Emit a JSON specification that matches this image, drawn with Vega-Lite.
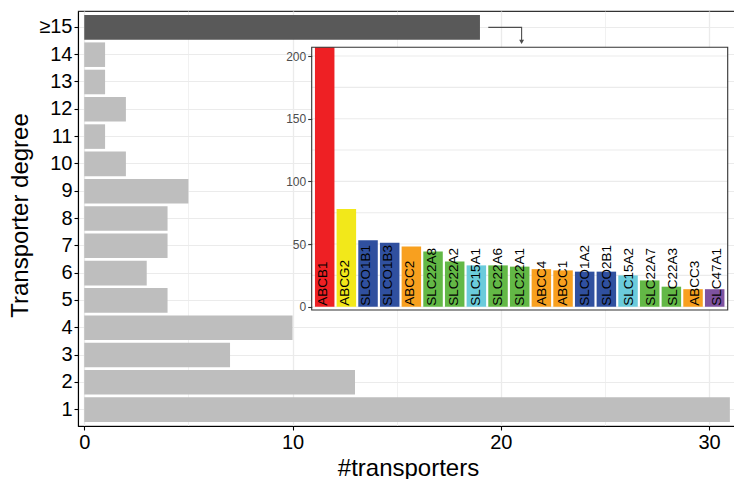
{
  "$schema": "https://vega.github.io/schema/vega-lite/v6.json",
  "width": 660,
  "height": 415,
  "autosize": {"type": "none"},
  "padding": {"left": 78, "top": 11, "right": 0, "bottom": 53},
  "background": "white",
  "config": {
    "font": "Liberation Sans",
    "view": {"stroke": "#333333", "strokeWidth": 1.1}
  },
  "datasets": {
    "main": [
      {"degree": "≥15", "transporters": 19, "group": "top"},
      {"degree": "14", "transporters": 1, "group": "rest"},
      {"degree": "13", "transporters": 1, "group": "rest"},
      {"degree": "12", "transporters": 2, "group": "rest"},
      {"degree": "11", "transporters": 1, "group": "rest"},
      {"degree": "10", "transporters": 2, "group": "rest"},
      {"degree": "9", "transporters": 5, "group": "rest"},
      {"degree": "8", "transporters": 4, "group": "rest"},
      {"degree": "7", "transporters": 4, "group": "rest"},
      {"degree": "6", "transporters": 3, "group": "rest"},
      {"degree": "5", "transporters": 4, "group": "rest"},
      {"degree": "4", "transporters": 10, "group": "rest"},
      {"degree": "3", "transporters": 7, "group": "rest"},
      {"degree": "2", "transporters": 13, "group": "rest"},
      {"degree": "1", "transporters": 31, "group": "rest"}
    ],
    "inset": [
      {"gene": "ABCB1", "n": 207, "family": "ABCB"},
      {"gene": "ABCG2", "n": 78, "family": "ABCG"},
      {"gene": "SLCO1B1", "n": 53, "family": "SLCO"},
      {"gene": "SLCO1B3", "n": 51, "family": "SLCO"},
      {"gene": "ABCC2", "n": 48, "family": "ABCC"},
      {"gene": "SLC22A8", "n": 44, "family": "SLC22"},
      {"gene": "SLC22A2", "n": 36, "family": "SLC22"},
      {"gene": "SLC15A1", "n": 33, "family": "SLC15"},
      {"gene": "SLC22A6", "n": 33, "family": "SLC22"},
      {"gene": "SLC22A1", "n": 32, "family": "SLC22"},
      {"gene": "ABCC4", "n": 30, "family": "ABCC"},
      {"gene": "ABCC1", "n": 29, "family": "ABCC"},
      {"gene": "SLCO1A2", "n": 28, "family": "SLCO"},
      {"gene": "SLCO2B1", "n": 28, "family": "SLCO"},
      {"gene": "SLC15A2", "n": 25, "family": "SLC15"},
      {"gene": "SLC22A7", "n": 21, "family": "SLC22"},
      {"gene": "SLC22A3", "n": 16, "family": "SLC22"},
      {"gene": "ABCC3", "n": 14, "family": "ABCC"},
      {"gene": "SLC47A1", "n": 14, "family": "SLC47"}
    ],
    "grid": [
      {"v": 0}, {"v": 25}, {"v": 50}, {"v": 75}, {"v": 100},
      {"v": 125}, {"v": 150}, {"v": 175}, {"v": 200}
    ],
    "arrow": [
      {"ax": 19.4, "ay": 15, "o": 1},
      {"ax": 21.0, "ay": 15, "o": 2},
      {"ax": 21.0, "ay": 14.5, "o": 3}
    ],
    "arrowhead": [
      {"ax": 21.0, "ay": 14.47}
    ],
    "panel": [{"p": "inset"}]
  },
  "layer": [
    {
      "data": {"name": "main"},
      "mark": {"type": "bar"},
      "encoding": {
        "y": {
          "field": "degree",
          "type": "nominal",
          "sort": ["≥15", "14", "13", "12", "11", "10", "9", "8", "7", "6", "5", "4", "3", "2", "1"],
          "scale": {"paddingInner": 0.1, "paddingOuter": 0.15},
          "axis": {
            "title": "Transporter degree",
            "titleFontSize": 24,
            "titleFontWeight": "normal",
            "titleColor": "black",
            "titleAngle": 270,
            "titleBaseline": "alphabetic",
            "titleX": -51,
            "titleY": 204,
            "labelFontSize": 20,
            "labelColor": "black",
            "labelPadding": 2,
            "tickSize": 4,
            "tickColor": "black",
            "tickWidth": 1.1,
            "tickBand": "center",
            "domainColor": "black",
            "domainWidth": 1.1,
            "grid": true,
            "gridColor": "#ebebeb",
            "gridWidth": 1.2
          }
        },
        "x": {
          "field": "transporters",
          "type": "quantitative",
          "scale": {"domain": [-0.3, 31.39], "nice": false, "zero": false},
          "axis": {
            "title": "#transporters",
            "titleFontSize": 24,
            "titleFontWeight": "normal",
            "titleColor": "black",
            "titleBaseline": "alphabetic",
            "titleY": 49,
            "titleX": 330,
            "values": [0, 5, 10, 15, 20, 25, 30],
            "labelExpr": "datum.value % 10 === 0 ? datum.label : ''",
            "labelFontSize": 20,
            "labelColor": "black",
            "labelPadding": 2,
            "labelFlush": false,
            "tickSize": 4,
            "tickColor": "black",
            "tickWidth": 1.1,
            "tickOpacity": {"condition": {"test": "datum.value % 10 === 0", "value": 1}, "value": 0},
            "domainColor": "black",
            "domainWidth": 1.1,
            "grid": true,
            "gridColor": "#ebebeb",
            "gridWidth": {"condition": {"test": "datum.value % 10 === 0", "value": 1.3}, "value": 0.7}
          }
        },
        "x2": {"datum": 0},
        "color": {
          "field": "group",
          "type": "nominal",
          "scale": {"domain": ["top", "rest"], "range": ["#595959", "#bebebe"]},
          "legend": null
        }
      }
    },
    {
      "data": {"name": "arrow"},
      "mark": {"type": "line", "color": "#4d4d4d", "strokeWidth": 1.1},
      "encoding": {
        "x": {"field": "ax", "type": "quantitative", "scale": {"domain": [-0.3, 31.39], "nice": false, "zero": false}, "axis": null},
        "y": {"field": "ay", "type": "quantitative", "scale": {"domain": [0.4, 15.6], "nice": false, "zero": false}, "axis": null},
        "order": {"field": "o"}
      }
    },
    {
      "data": {"name": "arrowhead"},
      "mark": {"type": "point", "shape": "triangle-down", "filled": true, "color": "#4d4d4d", "size": 24, "opacity": 1},
      "encoding": {
        "x": {"field": "ax", "type": "quantitative", "scale": {"domain": [-0.3, 31.39], "nice": false, "zero": false}, "axis": null},
        "y": {"field": "ay", "type": "quantitative", "scale": {"domain": [0.4, 15.6], "nice": false, "zero": false}, "axis": null}
      }
    },
    {
      "data": {"name": "panel"},
      "mark": {"type": "rect", "fill": "white"},
      "encoding": {
        "x": {"datum": 0, "type": "quantitative", "scale": {"domain": [0, 1], "range": [233.7, 649.7], "nice": false, "zero": false}, "axis": null},
        "x2": {"datum": 1},
        "y": {"datum": -2.6, "type": "quantitative", "scale": {"domain": [-2.6, 207], "range": [299, 36.3], "nice": false, "zero": false}, "axis": null},
        "y2": {"datum": 207}
      }
    },
    {
      "data": {"name": "grid"},
      "mark": {"type": "rule", "color": "#ebebeb", "strokeWidth": 1.1},
      "encoding": {
        "x": {"datum": 0, "type": "quantitative", "scale": {"domain": [0, 1], "range": [233.7, 649.7], "nice": false, "zero": false}, "axis": null},
        "x2": {"datum": 1},
        "y": {"field": "v", "type": "quantitative", "scale": {"domain": [-2.6, 207], "range": [299, 36.3], "nice": false, "zero": false}, "axis": null}
      }
    },
    {
      "data": {"name": "inset"},
      "mark": {"type": "bar"},
      "encoding": {
        "x": {
          "field": "gene",
          "type": "nominal",
          "sort": null,
          "scale": {"range": [233.7, 649.7], "paddingInner": 0.1, "paddingOuter": 0.15},
          "axis": null
        },
        "y": {
          "field": "n",
          "type": "quantitative",
          "scale": {"domain": [-2.6, 207], "range": [299, 36.3], "nice": false, "zero": false},
          "axis": {
            "orient": "left",
            "offset": -233.7,
            "title": null,
            "values": [0, 50, 100, 150, 200],
            "grid": false,
            "domain": false,
            "tickSize": 4,
            "tickColor": "#333333",
            "tickWidth": 1.1,
            "labelFontSize": 12,
            "labelColor": "#4d4d4d",
            "labelPadding": 2,
            "zindex": 2
          }
        },
        "y2": {"datum": 0},
        "color": {
          "field": "family",
          "type": "nominal",
          "scale": {
            "domain": ["ABCB", "ABCG", "SLCO", "ABCC", "SLC22", "SLC15", "SLC47"],
            "range": ["#ee2024", "#f2e81a", "#30509f", "#f8a01f", "#63b846", "#6bcbdb", "#7e52a0"]
          },
          "legend": null
        }
      }
    },
    {
      "data": {"name": "inset"},
      "mark": {"type": "text", "angle": 270, "align": "left", "baseline": "middle", "fontSize": 13.5, "color": "black", "dx": 1},
      "encoding": {
        "x": {
          "field": "gene",
          "type": "nominal",
          "sort": null,
          "scale": {"range": [233.7, 649.7], "paddingInner": 0.1, "paddingOuter": 0.15},
          "axis": null
        },
        "y": {"datum": 0, "type": "quantitative", "scale": {"domain": [-2.6, 207], "range": [299, 36.3], "nice": false, "zero": false}, "axis": null},
        "text": {"field": "gene", "type": "nominal"}
      }
    },
    {
      "data": {"name": "panel"},
      "mark": {"type": "rect", "fill": null, "fillOpacity": 0, "stroke": "#333333", "strokeWidth": 1.1},
      "encoding": {
        "x": {"datum": 0, "type": "quantitative", "scale": {"domain": [0, 1], "range": [233.7, 649.7], "nice": false, "zero": false}, "axis": null},
        "x2": {"datum": 1},
        "y": {"datum": -2.6, "type": "quantitative", "scale": {"domain": [-2.6, 207], "range": [299, 36.3], "nice": false, "zero": false}, "axis": null},
        "y2": {"datum": 207}
      }
    }
  ],
  "resolve": {
    "scale": {"x": "independent", "y": "independent", "color": "independent"},
    "axis": {"x": "independent", "y": "independent"}
  }
}
